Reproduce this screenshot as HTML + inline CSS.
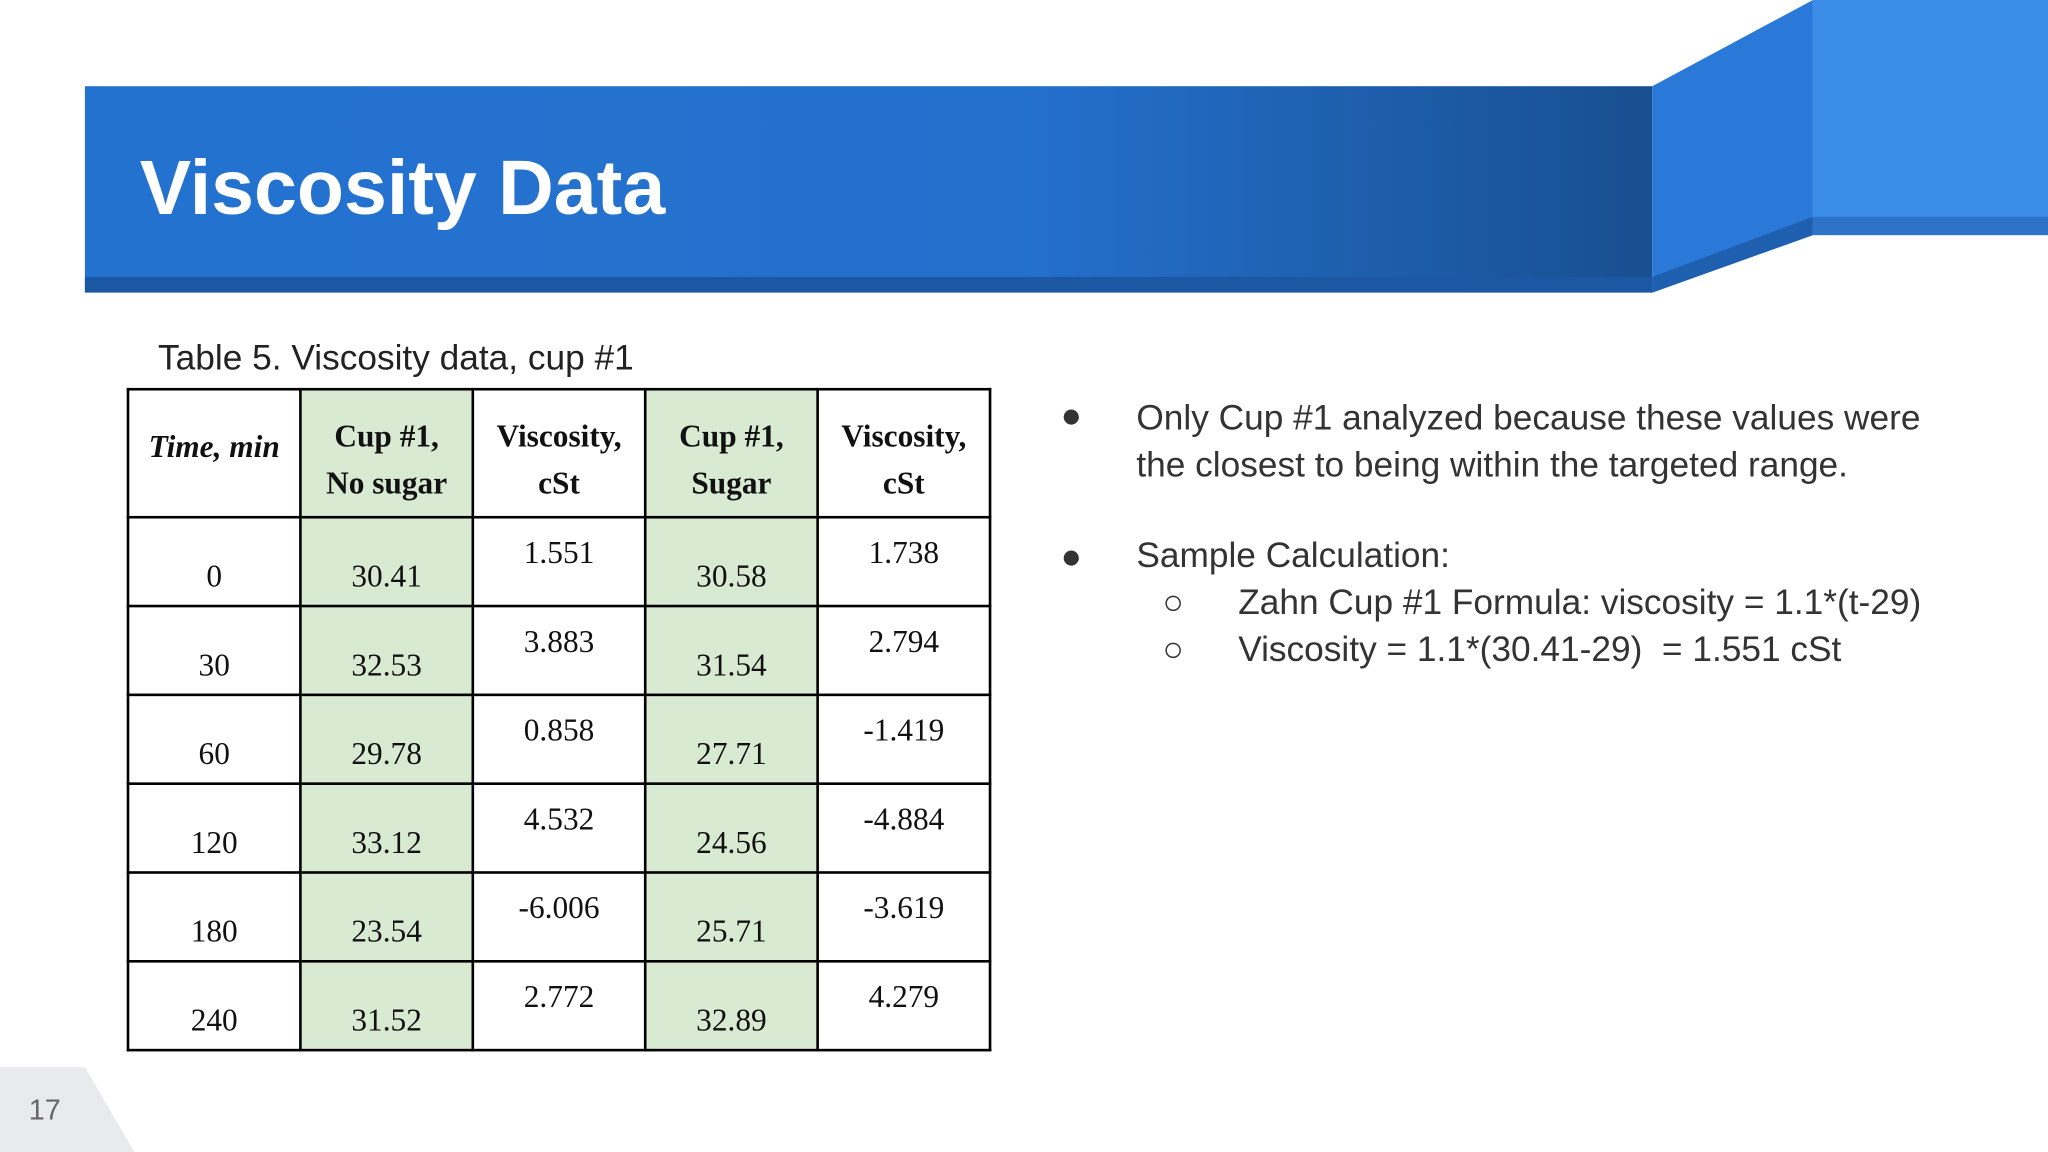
<!DOCTYPE html>
<html><head><meta charset="utf-8"><style>
html,body{margin:0;padding:0;background:#fff;}
body{width:2048px;height:1152px;overflow:hidden;position:relative;}
#s{position:absolute;left:0;top:0;width:1568px;height:882px;transform:scale(1.30612);transform-origin:0 0;font-family:"Liberation Sans",sans-serif;}
.a{position:absolute;}
table{position:absolute;left:97px;top:297px;border-collapse:collapse;font-family:"Liberation Serif",serif;font-size:24px;color:#111;table-layout:fixed;}
td{border:2px solid #000;width:130px;text-align:center;padding:0;}
th{border:2px solid #000;width:130px;height:98px;text-align:center;font-weight:bold;line-height:36px;padding:18px 0 0 0;vertical-align:top;box-sizing:border-box;}
.g{background:#d9ead3;}
.lo{padding-top:24px;height:42px;}
.hi{padding-bottom:12px;height:54px;}
.b{font-size:27px;color:#333;}
</style></head><body>
<div id="s">
<svg class="a" style="left:0;top:0" width="1568" height="882">
<defs><linearGradient id="g1" x1="0" x2="1"><stop offset="0" stop-color="#2472d0"/><stop offset="0.6" stop-color="#2470cd"/><stop offset="1" stop-color="#184f90"/></linearGradient></defs>
<rect x="65" y="66" width="1200" height="158" fill="url(#g1)"/>
<rect x="65" y="212" width="1200" height="12" fill="#1c57a3"/>
<polygon points="1265,66 1388,0 1388,180 1265,224" fill="#2a79d8"/>
<polygon points="1265,212 1388,166 1388,180 1265,224" fill="#1f5fb0"/>
<rect x="1388" y="0" width="180" height="180" fill="#3b8ce6"/>
<rect x="1388" y="166" width="180" height="14" fill="#2d74c8"/>
<polygon points="0,817 65,817 103,882 0,882" fill="#e8eaed"/>
</svg>
<div class="a" style="left:107px;top:110px;font-size:59px;font-weight:bold;color:#fff;">Viscosity Data</div>
<div class="a" style="left:121px;top:259px;font-size:27px;color:#222;">Table 5. Viscosity data, cup #1</div>
<table>
<tr><th style="padding-top:26px;font-style:italic;">Time, min</th><th class="g">Cup #1,<br>No sugar</th><th>Viscosity,<br>cSt</th><th class="g">Cup #1,<br>Sugar</th><th>Viscosity,<br>cSt</th></tr>
<tr><td class="lo">0</td><td class="g lo">30.41</td><td class="hi">1.551</td><td class="g lo">30.58</td><td class="hi">1.738</td></tr>
<tr><td class="lo">30</td><td class="g lo">32.53</td><td class="hi">3.883</td><td class="g lo">31.54</td><td class="hi">2.794</td></tr>
<tr><td class="lo">60</td><td class="g lo">29.78</td><td class="hi">0.858</td><td class="g lo">27.71</td><td class="hi">-1.419</td></tr>
<tr><td class="lo">120</td><td class="g lo">33.12</td><td class="hi">4.532</td><td class="g lo">24.56</td><td class="hi">-4.884</td></tr>
<tr><td class="lo">180</td><td class="g lo">23.54</td><td class="hi">-6.006</td><td class="g lo">25.71</td><td class="hi">-3.619</td></tr>
<tr><td class="lo">240</td><td class="g lo">31.52</td><td class="hi">2.772</td><td class="g lo">32.89</td><td class="hi">4.279</td></tr>
</table>
<div class="a b" style="left:812px;top:303px;">●</div>
<div class="a b" style="left:870px;top:302px;line-height:36px;">Only Cup #1 analyzed because these values were<br>the closest to being within the targeted range.</div>
<div class="a b" style="left:812px;top:411px;">●</div>
<div class="a b" style="left:870px;top:410px;">Sample Calculation:</div>
<div class="a b" style="left:890px;top:446px;">○</div>
<div class="a b" style="left:948px;top:446px;">Zahn Cup #1 Formula: viscosity = 1.1*(t-29)</div>
<div class="a b" style="left:890px;top:482px;">○</div>
<div class="a b" style="left:948px;top:482px;">Viscosity = 1.1*(30.41-29)&nbsp; = 1.551 cSt</div>
<div class="a" style="left:22px;top:837px;font-size:22px;color:#666;">17</div>
</div>
</body></html>
